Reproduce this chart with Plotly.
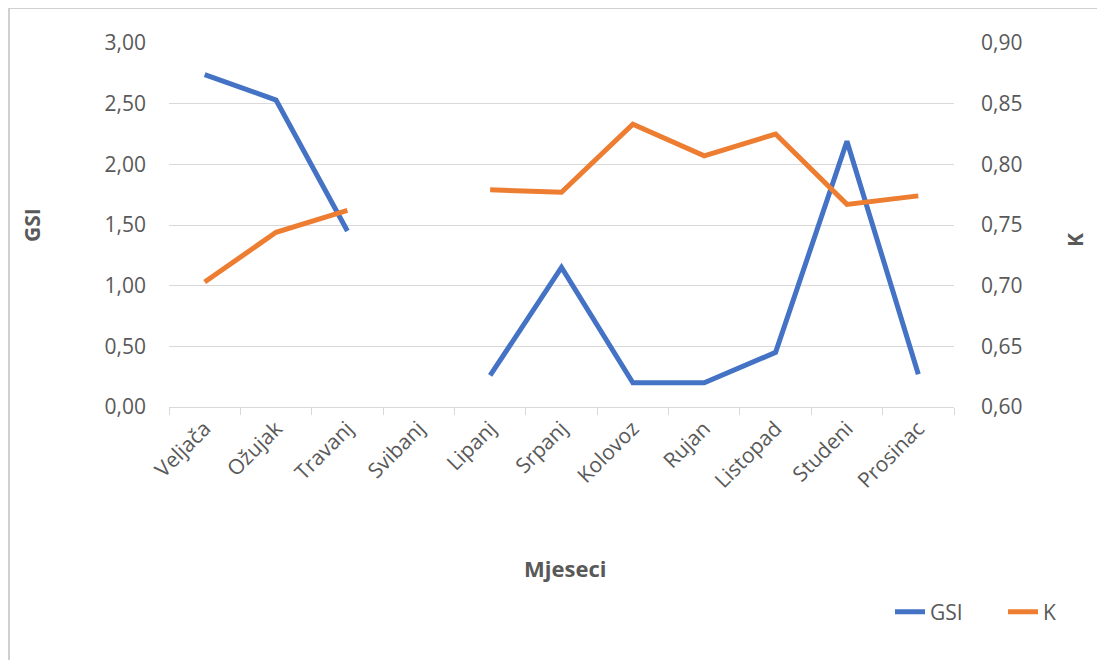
import plotly.graph_objects as go

months = ["Veljača", "Ožujak", "Travanj", "Svibanj", "Lipanj", "Srpanj",
          "Kolovoz", "Rujan", "Listopad", "Studeni", "Prosinac"]
gsi = [2.74, 2.53, 1.45, None, 0.26, 1.15, 0.20, 0.20, 0.45, 2.19, 0.27]
k_vals = [0.703, 0.744, 0.762, None, 0.779, 0.777, 0.833, 0.807, 0.825, 0.767, 0.774]

FONT = "Open Sans"
GREY = "#595959"
TICK = 21

fig = go.Figure()
fig.add_trace(go.Scatter(x=months, y=gsi, name="GSI", mode="lines",
                         line=dict(color="#4472C4", width=5), connectgaps=False))
fig.add_trace(go.Scatter(x=months, y=k_vals, name="K", mode="lines", yaxis="y2",
                         line=dict(color="#ED7D31", width=5), connectgaps=False))

# page has an 8px body margin; figure drawn from (8, 8)
W, H = 1097, 652
L, R, T, B = 161, 151, 35, 253
pw, ph = W - L - R, H - T - B


def px(xf):
    return (xf - L) / pw


def py(yf):
    return 1 - (yf - T) / ph


fig.update_layout(
    width=W, height=H,
    margin=dict(l=L, r=R, t=T, b=B, autoexpand=False),
    paper_bgcolor="white", plot_bgcolor="white",
    separators=",.",
    font=dict(family=FONT, size=TICK, color=GREY),
    showlegend=True,
    legend=dict(orientation="h", x=px(882), xanchor="left", y=py(604), yanchor="middle",
                entrywidth=68, entrywidthmode="pixels",
                font=dict(size=TICK, color=GREY), bgcolor="rgba(0,0,0,0)"),
    xaxis=dict(
        type="category", range=[-0.5, 10.5], tickangle=-45, showgrid=False,
        showline=True, linecolor="#d9d9d9", linewidth=1,
        ticks="outside", tickson="boundaries", tickcolor="#d9d9d9", ticklen=7,
        tickfont=dict(size=TICK, color=GREY),
    ),
    yaxis=dict(
        range=[0, 3], dtick=0.5, tickformat=".2f", showgrid=True, gridcolor="#d9d9d9",
        gridwidth=1, zeroline=False, showline=False, ticks="", ticklabelstandoff=22,
        tickfont=dict(size=TICK, color=GREY),
    ),
    yaxis2=dict(
        range=[0.6, 0.9], dtick=0.05, tickformat=".2f", overlaying="y", side="right",
        showgrid=False, zeroline=False, showline=False, ticks="", ticklabelstandoff=26,
        tickfont=dict(size=TICK, color=GREY),
    ),
    annotations=[
        dict(text="<b>GSI</b>", xref="paper", yref="paper", x=px(24), y=py(217),
             showarrow=False, textangle=-90, font=dict(size=21, color=GREY),
             xanchor="center", yanchor="middle"),
        dict(text="<b>K</b>", xref="paper", yref="paper", x=px(1067), y=py(232),
             showarrow=False, textangle=-90, font=dict(size=21, color=GREY),
             xanchor="center", yanchor="middle"),
        dict(text="<b>Mjeseci</b>", xref="paper", yref="paper", x=px(557), y=py(560),
             showarrow=False, font=dict(size=22, color=GREY),
             xanchor="center", yanchor="middle"),
    ],
)

# outer chart frame
fig.add_shape(type="rect", xref="paper", yref="paper",
              x0=px(1), x1=px(1300), y0=py(900), y1=py(0),
              line=dict(color="#d0d0d0", width=2), layer="below")

fig.write_html("out.html")
